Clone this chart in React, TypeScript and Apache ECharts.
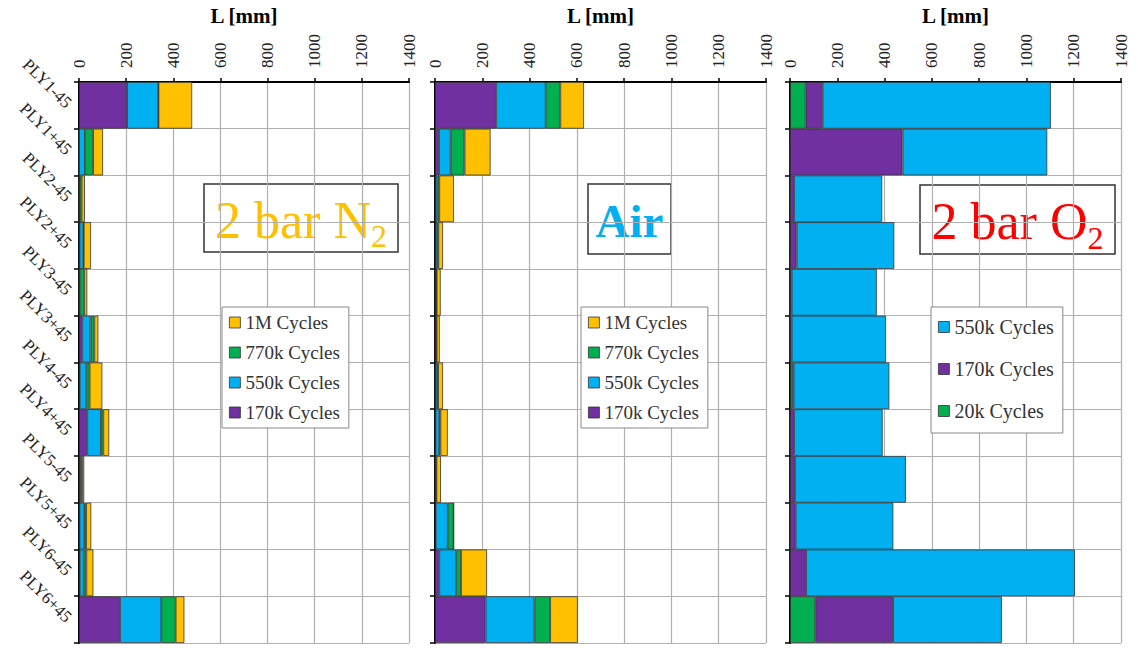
import React, { useEffect, useRef } from "react";
import * as echarts from "echarts";

const categories = ["PLY1-45", "PLY1+45", "PLY2-45", "PLY2+45", "PLY3-45", "PLY3+45", "PLY4-45", "PLY4+45", "PLY5-45", "PLY5+45", "PLY6-45", "PLY6+45"];
const xTicks = { min: 0, max: 1400, interval: 200 };

// 2 bar N2 (segment lengths, mm)
const n2_170k = [204, 0, 0, 2, 1, 14, 3, 35, 3, 2, 3, 174];
const n2_550k = [133, 25, 3, 17, 2, 35, 28, 58, 3, 20, 17, 175];
const n2_770k = [0, 35, 8, 1, 19, 16, 14, 10, 8, 8, 11, 61];
const n2_1M = [143, 42, 14, 31, 13, 17, 54, 25, 8, 22, 30, 37];

// Air
const air_170k = [259, 17, 3, 3, 2, 2, 2, 2, 2, 3, 18, 214];
const air_550k = [209, 49, 8, 8, 3, 3, 8, 16, 2, 51, 72, 207];
const air_770k = [62, 59, 7, 3, 2, 2, 3, 5, 2, 25, 20, 66];
const air_1M = [100, 110, 62, 20, 17, 13, 21, 31, 19, 0, 110, 117];

// 2 bar O2
const o2_20k = [66, 0, 0, 0, 0, 0, 10, 0, 0, 0, 0, 107];
const o2_170k = [72, 476, 17, 28, 7, 7, 5, 17, 21, 24, 68, 329];
const o2_550k = [965, 612, 373, 413, 360, 399, 405, 375, 469, 413, 1137, 460];

const legendNames4 = ["1M Cycles", "770k Cycles", "550k Cycles", "170k Cycles"];
const legendNames3 = ["550k Cycles", "170k Cycles", "20k Cycles"];

const C_PURPLE = "#7030A0";
const C_BLUE = "#00B0F0";
const C_GREEN = "#00B050";
const C_YELLOW = "#FFC000";
const FONT = "Liberation Serif";

export default function App() {
  const ref = useRef<HTMLDivElement>(null);
  useEffect(() => {
    if (!ref.current) return;
    const chart = echarts.init(ref.current, undefined, { renderer: "svg" });
    const grids = [
      { left: 79, top: 79, width: 330, height: 564 },
      { left: 435, top: 79, width: 331, height: 564 },
      { left: 790, top: 79, width: 331, height: 564 },
    ];
    const xAxis = grids.map((_, i) => ({
      type: "value",
      gridIndex: i,
      position: "top",
      min: xTicks.min,
      max: xTicks.max,
      interval: xTicks.interval,
      name: "L [mm]",
      nameLocation: "middle",
      nameGap: 50,
      nameTextStyle: { fontFamily: FONT, fontWeight: "bold", fontSize: 21, color: "#000" },
      axisLine: { show: true, lineStyle: { color: "#000", width: 2 } },
      axisTick: { show: true, length: 4, lineStyle: { color: "#000", width: 1.5 } },
      axisLabel: { rotate: -90, fontFamily: FONT, fontSize: 17, color: "#222", margin: 14, formatter: (v: number) => String(v) },
      splitLine: { show: true, lineStyle: { color: "#b0b0b0", width: 1.2 } },
    }));
    const yAxis = grids.map((_, i) => ({
      type: "category",
      gridIndex: i,
      data: categories,
      inverse: true,
      axisLine: { show: true, lineStyle: { color: "#000", width: 2 } },
      axisTick: { show: true, length: 5, lineStyle: { color: "#000", width: 1.5 } },
      axisLabel: { show: i === 0, rotate: -45, fontFamily: FONT, fontSize: 17, color: "#222", margin: 10 },
      splitLine: { show: true, lineStyle: { color: "#b0b0b0", width: 1.2 } },
    }));
    const mk = (name: string, data: number[], color: string, idx: number) => ({
      type: "bar",
      name,
      data,
      stack: "s" + idx,
      xAxisIndex: idx,
      yAxisIndex: idx,
      barCategoryGap: "0%",
      itemStyle: { color, borderColor: "#333", borderWidth: 0.8 },
    });
    const series = [
      mk("170k Cycles", n2_170k, C_PURPLE, 0),
      mk("550k Cycles", n2_550k, C_BLUE, 0),
      mk("770k Cycles", n2_770k, C_GREEN, 0),
      mk("1M Cycles", n2_1M, C_YELLOW, 0),
      mk("170k Cycles", air_170k, C_PURPLE, 1),
      mk("550k Cycles", air_550k, C_BLUE, 1),
      mk("770k Cycles", air_770k, C_GREEN, 1),
      mk("1M Cycles", air_1M, C_YELLOW, 1),
      mk("20k Cycles", o2_20k, C_GREEN, 2),
      mk("170k Cycles", o2_170k, C_PURPLE, 2),
      mk("550k Cycles", o2_550k, C_BLUE, 2),
    ];
    const ts = (size: number) => ({ fontFamily: FONT, fontSize: size, color: "#333" });
    const legendBase = {
      orient: "vertical",
      backgroundColor: "#fff",
      borderColor: "#888",
      borderWidth: 1,
      itemWidth: 11,
      itemHeight: 11,
      itemStyle: { borderColor: "#333", borderWidth: 0.8 },
      icon: "rect",
      selectedMode: false,
    };
    const legend = [
      { ...legendBase, left: 222, top: 307, padding: [6, 9, 6, 7], itemGap: 11, textStyle: ts(19), data: legendNames4.map((name) => ({ name, textStyle: ts(19) })) },
      { ...legendBase, left: 581, top: 307, padding: [6, 9, 6, 7], itemGap: 11, textStyle: ts(19), data: legendNames4.map((name) => ({ name, textStyle: ts(19) })) },
      { ...legendBase, left: 931, top: 307, padding: [10, 9, 12, 7], itemGap: 22, textStyle: ts(20), data: legendNames3.map((name) => ({ name, textStyle: ts(20) })) },
    ];
    const box = (x: number, y: number, w: number, h: number, text: string, color: string, bold: boolean, size: number) => ({
      type: "group",
      z: 100,
      children: [
        { type: "rect", shape: { x, y, width: w, height: h }, style: { fill: "#fff", stroke: "#333", lineWidth: 1.5 } },
        {
          type: "text",
          x: x + w / 2,
          y: y + h / 2 + 2,
          style: {
            text,
            align: "center",
            verticalAlign: "middle",
            fontFamily: FONT,
            rich: {
              a: { fontFamily: FONT, fontSize: size, fontWeight: bold ? "bold" : "normal", fill: color, lineHeight: 64, verticalAlign: "middle" },
              b: { fontFamily: FONT, fontSize: 32, fill: color, lineHeight: 64, verticalAlign: "bottom" },
            },
          },
        },
      ],
    });
    chart.setOption({
      animation: false,
      backgroundColor: "#fff",
      textStyle: { fontFamily: FONT },
      grid: grids,
      xAxis,
      yAxis,
      series,
      legend,
      graphic: [
        box(204, 184, 194, 68, "{a|2 bar N}{b|2}", C_YELLOW, false, 52),
        box(588, 184, 83, 70, "{a|Air}", C_BLUE, true, 47),
        box(920, 185, 195, 69, "{a|2 bar O}{b|2}", "#FF0000", false, 52),
      ],
    });
    return () => chart.dispose();
  }, []);
  return <div ref={ref} style={{ position: "absolute", left: 0, top: 0, width: 1138, height: 648 }} />;
}
